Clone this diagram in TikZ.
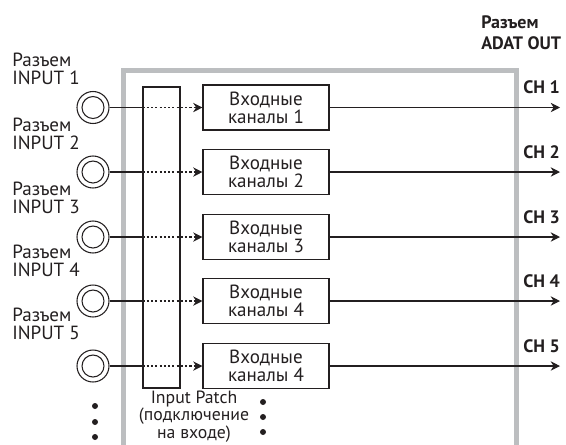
\documentclass[tikz,border=0pt]{standalone}
\usepackage{fontspec}
\setmainfont{PT Sans}
\usetikzlibrary{arrows.meta, positioning}
\definecolor{ink}{HTML}{231F20}
\definecolor{frgray}{HTML}{BCBEC0}

\begin{document}
\begin{tikzpicture}[x=0.75pt, y=-0.75pt,
  txt/.style={font=\fontsize{14.3}{13.5}\selectfont, text=ink, align=left, inner sep=0pt},
  chlbl/.style={font=\fontsize{13.5}{13.5}\selectfont\bfseries, text=ink, inner sep=0pt},
  chbox/.style={draw=ink, line width=0.8pt, minimum width=94.5pt, minimum height=33.75pt,
    inner sep=0pt, align=center, text=ink, font=\fontsize{14.3}{13.5}\selectfont},
  jack/.style={draw=ink, circle, line width=0.8pt, minimum size=24pt, inner sep=0pt},
  jackin/.style={draw=ink, circle, line width=0.8pt, minimum size=16.5pt, inner sep=0pt},
  wire/.style={draw=ink, line width=0.8pt},
  patchwire/.style={wire, dash pattern=on 1.6pt off 1.6pt},
  tip/.style={-{Stealth[length=7pt, width=7pt]}},
  dot/.style={fill=ink, circle, minimum size=4.5pt, inner sep=0pt}]
\useasboundingbox (0,0) rectangle (566,444);
\draw[frgray, line width=3.75pt] (123,452) -- (123,70) -- (516,70) -- (516,452);
\node[chlbl, anchor=west, align=left, font=\fontsize{13.5}{15.75}\selectfont\bfseries]
  (adat) at (481,33) {Разъем\\ADAT OUT};
\node[draw=ink, line width=0.8pt, minimum width=27.75pt, minimum height=225.75pt, inner sep=0pt]
  (patch) at (161.5,237.5) {};
% row 1
\node[txt, anchor=west] (in1) at (12,69) {Разъем\\INPUT 1};
\node[jack] (jack1) at (93,107.5) {};
\node[jackin] (jackin1) at (jack1) {};
\node[chbox] (ch1) at (266,107.5) {Входные\\каналы 1};
\coordinate (out1) at (560,107.5);
\node[chlbl, anchor=west] (lbl1) at (523,87.5) {CH 1};
\draw[wire] (jack1) -- (patch.west |- jack1);
\draw[patchwire, tip] (patch.west |- jack1) -- (ch1.west);
\draw[wire, tip] (ch1.east) -- (out1);
% row 2
\node[txt, anchor=west] (in2) at (12,134) {Разъем\\INPUT 2};
\node[jack] (jack2) at (93,172) {};
\node[jackin] (jackin2) at (jack2) {};
\node[chbox] (ch2) at (266,172) {Входные\\каналы 2};
\coordinate (out2) at (560,172);
\node[chlbl, anchor=west] (lbl2) at (523,152) {CH 2};
\draw[wire] (jack2) -- (patch.west |- jack2);
\draw[patchwire, tip] (patch.west |- jack2) -- (ch2.west);
\draw[wire, tip] (ch2.east) -- (out2);
% row 3
\node[txt, anchor=west] (in3) at (12,197.5) {Разъем\\INPUT 3};
\node[jack] (jack3) at (93,237) {};
\node[jackin] (jackin3) at (jack3) {};
\node[chbox] (ch3) at (266,237) {Входные\\каналы 3};
\coordinate (out3) at (560,237);
\node[chlbl, anchor=west] (lbl3) at (523,217) {CH 3};
\draw[wire] (jack3) -- (patch.west |- jack3);
\draw[patchwire, tip] (patch.west |- jack3) -- (ch3.west);
\draw[wire, tip] (ch3.east) -- (out3);
% row 4
\node[txt, anchor=west] (in4) at (12,261) {Разъем\\INPUT 4};
\node[jack] (jack4) at (93,301) {};
\node[jackin] (jackin4) at (jack4) {};
\node[chbox] (ch4) at (266,301) {Входные\\каналы 4};
\coordinate (out4) at (560,301);
\node[chlbl, anchor=west] (lbl4) at (523,281) {CH 4};
\draw[wire] (jack4) -- (patch.west |- jack4);
\draw[patchwire, tip] (patch.west |- jack4) -- (ch4.west);
\draw[wire, tip] (ch4.east) -- (out4);
% row 5
\node[txt, anchor=west] (in5) at (12,324) {Разъем\\INPUT 5};
\node[jack] (jack5) at (93,366) {};
\node[jackin] (jackin5) at (jack5) {};
\node[chbox] (ch5) at (266,366) {Входные\\каналы 4};
\coordinate (out5) at (560,366);
\node[chlbl, anchor=west] (lbl5) at (523,346) {CH 5};
\draw[wire] (jack5) -- (patch.west |- jack5);
\draw[patchwire, tip] (patch.west |- jack5) -- (ch5.west);
\draw[wire, tip] (ch5.east) -- (out5);
% more channels
\node[txt, align=center, font=\fontsize{13.3}{10.6}\selectfont] (patchlbl) at (194,416.5)
  {Input Patch\\(подключение\\на входе)};
\node[dot] (dl1) at (95,406) {};
\node[dot] (dl2) at (95,422) {};
\node[dot] (dl3) at (95,437) {};
\node[dot] (dm1) at (263,402) {};
\node[dot] (dm2) at (263,417) {};
\node[dot] (dm3) at (263,432) {};
\end{tikzpicture}
\end{document}
